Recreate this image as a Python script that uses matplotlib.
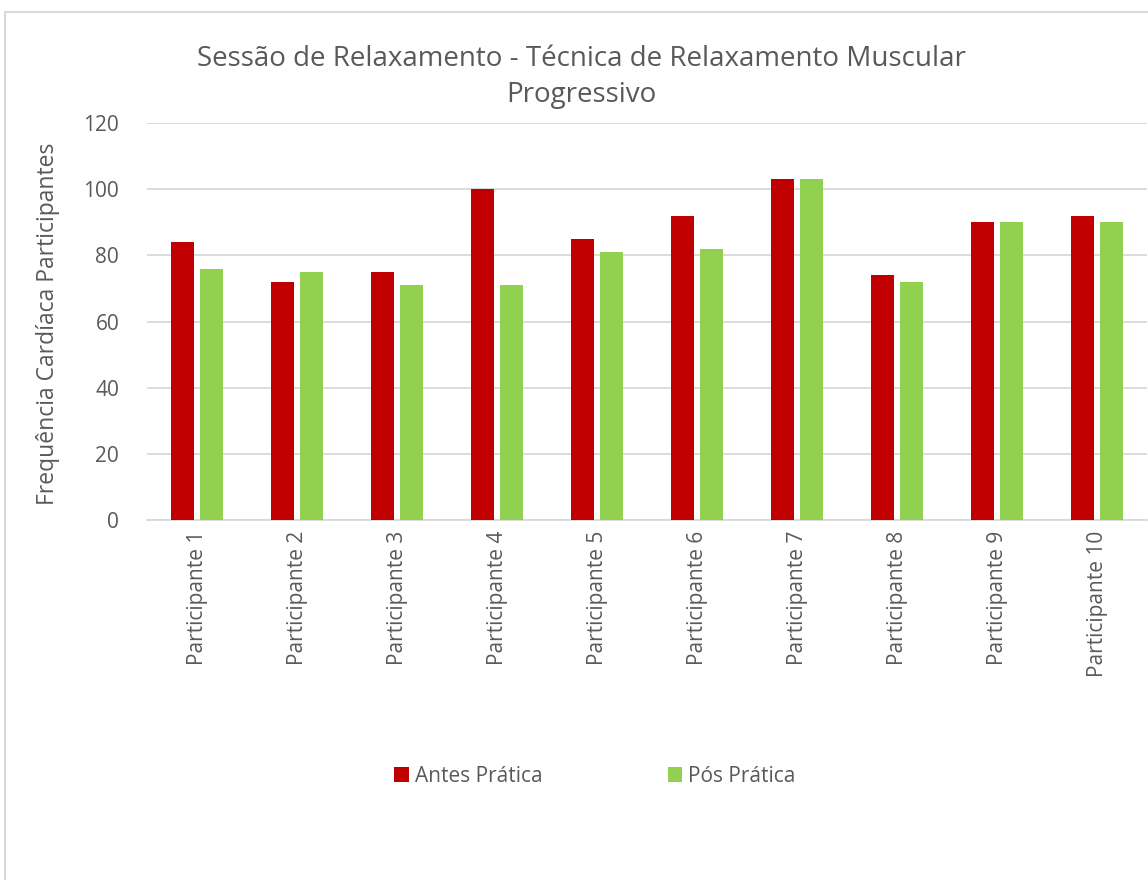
import matplotlib.pyplot as plt
import numpy as np
from matplotlib.patches import Rectangle

participantes = ["Participante 1", "Participante 2", "Participante 3", "Participante 4",
                 "Participante 5", "Participante 6", "Participante 7", "Participante 8",
                 "Participante 9", "Participante 10"]
antes_pratica = [84, 72, 75, 100, 85, 92, 103, 74, 90, 92]
pos_pratica = [76, 75, 71, 71, 81, 82, 103, 72, 90, 90]
y_ticks = [0, 20, 40, 60, 80, 100, 120]

plt.rcParams['font.family'] = ['Open Sans', 'DejaVu Sans']
text_color = "#595959"

fig = plt.figure(figsize=(11.48, 8.8), dpi=100)
ax = fig.add_axes([147 / 1148, 1 - 520 / 880, 1000 / 1148, 397 / 880])

x = np.arange(len(participantes))
width = 0.23
ax.bar(x - 0.145, antes_pratica, width, color="#C00000", label="Antes Prática", zorder=3)
ax.bar(x + 0.145, pos_pratica, width, color="#92D050", label="Pós Prática", zorder=3)

ax.set_xlim(-0.5, len(participantes) - 0.5)
ax.set_ylim(0, 120)
ax.set_yticks(y_ticks)
ax.set_xticks(x)
ax.set_xticklabels(participantes, rotation=90, fontsize=15, color=text_color)
ax.tick_params(axis="y", labelsize=15, labelcolor=text_color, length=0, pad=20)
ax.tick_params(axis="x", length=0, pad=8)
ax.grid(axis="y", color="#D9D9D9", linewidth=1.3, zorder=0)
for s in ["top", "right", "left"]:
    ax.spines[s].set_visible(False)
ax.spines["bottom"].set_color("#D9D9D9")
ax.spines["bottom"].set_linewidth(1.3)

ax.set_ylabel("Frequência Cardíaca Participantes", fontsize=16.5, color=text_color)
ax.yaxis.set_label_coords(-0.087, 0.494)
fig.text(581 / 1148, 1 - 77 / 880,
         "Sessão de Relaxamento - Técnica de Relaxamento Muscular\nProgressivo",
         ha="center", va="center", fontsize=20, color=text_color, linespacing=1.35)

fig.legend(loc="center", bbox_to_anchor=(595 / 1148, 1 - 776 / 880), ncol=2,
           frameon=False, fontsize=15, labelcolor=text_color, columnspacing=6.0,
           handlelength=0.7, handleheight=0.7, handletextpad=0.3)

fig.patches.append(Rectangle((5 / 1148, -0.1), 1.2, 1 - 12 / 880 + 0.1,
                             transform=fig.transFigure, fill=False,
                             edgecolor="#D9D9D9", linewidth=1.5))

fig.savefig("out.png", dpi=100)
